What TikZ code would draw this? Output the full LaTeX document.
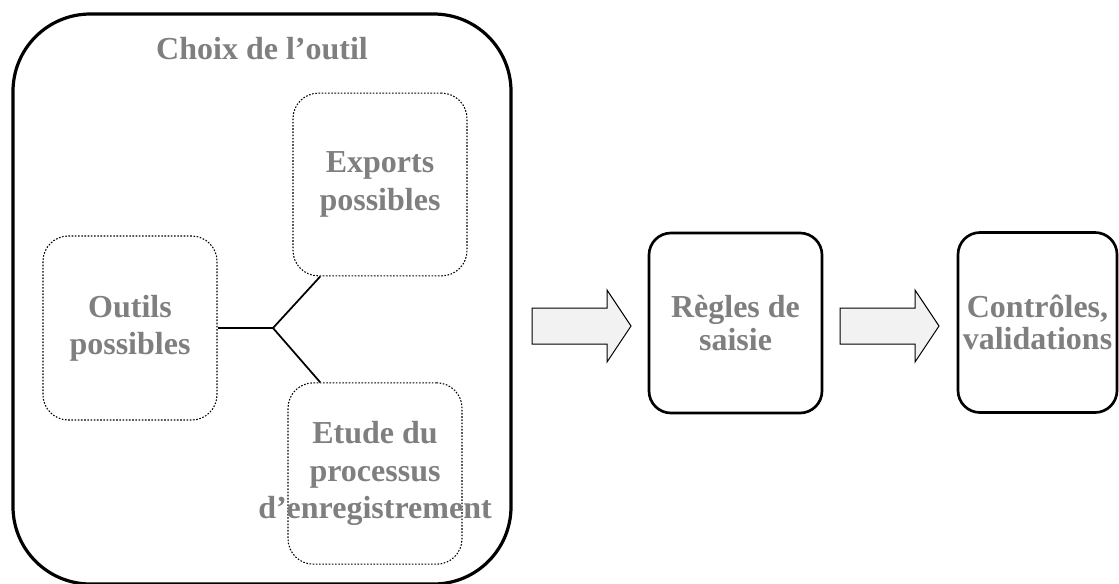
\documentclass[tikz,border=0pt]{standalone}
\usepackage{fontspec}
\setmainfont{Liberation Serif}
\usepackage{xcolor}
\usepackage{tikz}
\usetikzlibrary{positioning}

\definecolor{txtgray}{RGB}{127,127,127}
\definecolor{arrowfill}{RGB}{242,242,242}

\tikzset{
  label text/.style={text=txtgray, font=\bfseries\fontsize{24}{28}\selectfont, align=center, inner sep=0pt},
  bigbox/.style={draw, line width=2.4pt, rounded corners=58pt, minimum width=373.5pt, minimum height=427.5pt},
  subbox/.style={draw=black, dash pattern=on 1.2pt off 1.2pt, line width=0.8pt, rounded corners=19pt, minimum width=130.5pt, label text},
  stepbox/.style={draw, line width=2pt, rounded corners=16.5pt, minimum height=135pt, label text, font=\bfseries\fontsize{24}{24.5}\selectfont},
  blockarrow/.style={draw, fill=arrowfill, line width=0.75pt, line join=miter}
}

\begin{document}
\begin{tikzpicture}[x=0.75pt, y=-0.75pt]
	\useasboundingbox (0,0) rectangle (1119,583);
	%tool choice
	\node[bigbox] (choix) at (262,299) {};
	\node[label text, anchor=base] (titre) at (262,59) {Choix de l’outil};
	%sub steps
	\node[subbox, minimum height=138pt] (outils) at (130,328) {Outils\\possibles};
	\node[subbox, minimum height=137pt] (exports) at (380,184.5) {Exports\\possibles};
	\node[subbox, minimum height=136pt] (etude) at (375,473.5) {Etude du\\processus\\\makebox[0pt]{d’enregistrement}};
	%fork
	\coordinate (fork) at (273,328);
	\draw[line width=1.3pt] (outils.east) -- (fork);
	\draw[line width=1.3pt] (fork) -- (exports.237);
	\draw[line width=1.3pt] (fork) -- (etude.121);
	%next steps
	\node[stepbox, minimum width=129.75pt] (regles) at (735.5,323) {Règles de\\saisie};
	\node[stepbox, minimum width=119.25pt] (controles) at (1037.5,322.5) {Contrôles,\\validations};
	%block arrows
	\draw[blockarrow] (532,308) -- (607,308) -- (607,290) -- (631,326) -- (607,362) -- (607,344) -- (532,344) -- cycle;
	\draw[blockarrow] (840,308) -- (915,308) -- (915,290) -- (939,326) -- (915,362) -- (915,344) -- (840,344) -- cycle;
\end{tikzpicture}
\end{document}
